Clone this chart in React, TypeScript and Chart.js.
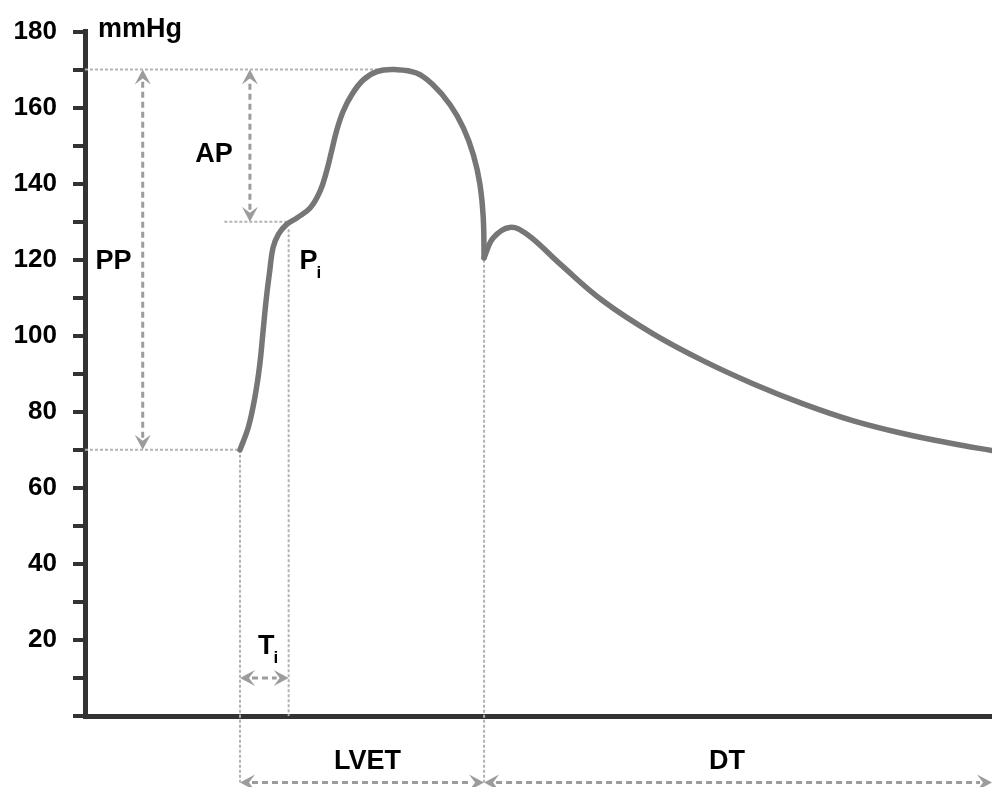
import React, { useEffect, useRef } from "react";
import { Chart, registerables } from "chart.js";

Chart.register(...registerables);

// ---- data (time in ms, pressure in mmHg) ----
const SYSTOLIC_T = [188, 198, 206, 212, 216, 220, 224, 228, 234.5, 244.6, 257, 273, 285, 293, 299, 305, 313, 323.5, 337.5, 354, 376, 402, 422, 443, 459, 471, 479, 483, 484];
const SYSTOLIC_P = [70, 75.9, 83.8, 92.5, 101.3, 110, 117, 123.1, 126.7, 129.3, 131, 133.6, 138, 143.3, 148.5, 153.8, 159, 163.4, 167.3, 169.5, 170, 169.1, 166, 160.7, 154.6, 147.6, 139.8, 131, 120.5];
const DIASTOLIC_T = [484, 495, 515, 536, 576, 628, 689, 750, 810, 871, 931, 992, 1053, 1100];
const DIASTOLIC_P = [120.5, 125.7, 128.5, 126.7, 118.9, 109.2, 100.5, 93.4, 87.4, 82.1, 77.7, 74.3, 71.6, 69.8];

const Y_MIN = 0;
const Y_MAX = 180;
const Y_STEP = 10;
const Y_LABEL_STEP = 20;
const X_MIN = 0;
const X_MAX = 1100;

// key values
const SYSTOLIC_PEAK = 170;
const DIASTOLIC_MIN = 70;
const INFLECTION_P = 130;
const EJECTION_START = 188;
const INFLECTION_T = 247;
const NOTCH_T = 484;
const NOTCH_P = 120;
const CYCLE_END = 1100;
const PEAK_T = 376;
const BELOW_AXIS = -17.5;
const TI_LEVEL = 10;
const PP_T = 70;
const AP_T = 200;

const DOTTED: [number, number, number, number][] = [
  [X_MIN, SYSTOLIC_PEAK, PEAK_T, SYSTOLIC_PEAK],
  [X_MIN, DIASTOLIC_MIN, EJECTION_START, DIASTOLIC_MIN],
  [169, INFLECTION_P, INFLECTION_T, INFLECTION_P],
  [EJECTION_START, DIASTOLIC_MIN, EJECTION_START, BELOW_AXIS],
  [INFLECTION_T, 128, INFLECTION_T, 0],
  [NOTCH_T, NOTCH_P, NOTCH_T, BELOW_AXIS],
];

const ARROWS: [number, number, number, number][] = [
  [PP_T, DIASTOLIC_MIN, PP_T, SYSTOLIC_PEAK],
  [AP_T, INFLECTION_P, AP_T, SYSTOLIC_PEAK],
  [EJECTION_START, TI_LEVEL, INFLECTION_T, TI_LEVEL],
  [EJECTION_START, BELOW_AXIS, NOTCH_T, BELOW_AXIS],
  [NOTCH_T, BELOW_AXIS, CYCLE_END, BELOW_AXIS],
];

// label text, center (t, p), subscript
const LABELS: [string, number, number, string][] = [
  ["PP", 34.6, 120.2, ""],
  ["AP", 156.5, 148.4, ""],
  ["P", 269.8, 120.2, "i"],
  ["T", 219.5, 18.9, "i"],
  ["LVET", 342.7, -11.2, ""],
  ["DT", 778.7, -11.2, ""],
];

const FONT_FAMILY = '"Liberation Sans", Arial, Helvetica, sans-serif';

function arrowHead(ctx: CanvasRenderingContext2D, x: number, y: number, dx: number, dy: number) {
  const L = 15, W = 8, N = 6;
  const nx = -dy, ny = dx;
  ctx.beginPath();
  ctx.moveTo(x, y);
  ctx.lineTo(x - dx * L + nx * W, y - dy * L + ny * W);
  ctx.lineTo(x - dx * (L - N), y - dy * (L - N));
  ctx.lineTo(x - dx * L - nx * W, y - dy * L - ny * W);
  ctx.closePath();
  ctx.fill();
}

const annotationPlugin = {
  id: "annotations",
  beforeDatasetsDraw(chart: any) {
    const { ctx, scales } = chart;
    const X = (t: number) => scales.x.getPixelForValue(t);
    const Y = (v: number) => scales.y.getPixelForValue(v);
    ctx.save();
    ctx.strokeStyle = "#b3b3b3";
    ctx.lineWidth = 2;
    ctx.setLineDash([3, 2]);
    for (const [t1, v1, t2, v2] of DOTTED) {
      ctx.beginPath();
      ctx.moveTo(X(t1), Y(v1));
      ctx.lineTo(X(t2), Y(v2));
      ctx.stroke();
    }
    ctx.strokeStyle = "#9c9c9c";
    ctx.fillStyle = "#9c9c9c";
    ctx.lineWidth = 3;
    for (const [t1, v1, t2, v2] of ARROWS) {
      const x1 = X(t1), y1 = Y(v1), x2 = X(t2), y2 = Y(v2);
      const len = Math.hypot(x2 - x1, y2 - y1);
      const dx = (x2 - x1) / len, dy = (y2 - y1) / len;
      ctx.setLineDash([6, 4]);
      ctx.beginPath();
      ctx.moveTo(x1 + dx * 12, y1 + dy * 12);
      ctx.lineTo(x2 - dx * 12, y2 - dy * 12);
      ctx.stroke();
      ctx.setLineDash([]);
      arrowHead(ctx, x2, y2, dx, dy);
      arrowHead(ctx, x1, y1, -dx, -dy);
    }
    ctx.restore();
  },
  afterDraw(chart: any) {
    const { ctx, scales, chartArea } = chart;
    const X = (t: number) => scales.x.getPixelForValue(t);
    const Y = (v: number) => scales.y.getPixelForValue(v);
    ctx.save();
    ctx.fillStyle = "#000";
    ctx.textBaseline = "alphabetic";
    // unit title
    ctx.font = `bold 27px ${FONT_FAMILY}`;
    ctx.textAlign = "left";
    ctx.fillText("mmHg", chartArea.left + 13, chartArea.top + 5);
    for (const [text, t, v, sub] of LABELS) {
      ctx.font = `bold 27px ${FONT_FAMILY}`;
      const w = ctx.measureText(text).width;
      const cx = X(t), cy = Y(v);
      const left = sub ? cx - 8 : cx - w / 2;
      const base = cy + 10;
      ctx.textAlign = "left";
      ctx.fillText(text, left, base);
      if (sub) {
        ctx.font = `bold 17px ${FONT_FAMILY}`;
        ctx.fillText(sub, left + w - 1, base + 9);
      }
    }
    ctx.restore();
  },
};

export default function App() {
  const ref = useRef<HTMLCanvasElement | null>(null);
  useEffect(() => {
    if (!ref.current) return;
    const lineStyle = {
      borderColor: "#767676",
      borderWidth: 5.5,
      pointRadius: 0,
      fill: false,
      tension: 0.4,
      borderCapStyle: "round" as const,
      borderJoinStyle: "round" as const,
    };
    const chart = new Chart(ref.current, {
      type: "line",
      data: {
        datasets: [
          { ...lineStyle, label: "systolic", data: SYSTOLIC_T.map((t, i) => ({ x: t, y: SYSTOLIC_P[i] })) },
          { ...lineStyle, label: "diastolic", data: DIASTOLIC_T.map((t, i) => ({ x: t, y: DIASTOLIC_P[i] })) },
        ],
      },
      options: {
        responsive: false,
        animation: false,
        devicePixelRatio: 1,
        layout: { padding: { top: 30, left: 0, right: 0, bottom: 0 } },
        plugins: { legend: { display: false }, tooltip: { enabled: false } },
        scales: {
          x: {
            type: "linear",
            min: X_MIN,
            max: X_MAX,
            grid: { display: false },
            ticks: { display: false },
            border: { display: true, width: 5, color: "#333" },
            afterFit: (s: any) => { s.height = 71; },
          },
          y: {
            type: "linear",
            min: Y_MIN,
            max: Y_MAX,
            grid: { drawOnChartArea: false, drawTicks: true, tickLength: 12, color: "#333", lineWidth: 4 },
            border: { display: true, width: 5, color: "#333" },
            ticks: {
              stepSize: Y_STEP,
              autoSkip: false,
              padding: 16,
              color: "#000",
              font: { family: FONT_FAMILY, size: 26, weight: "bold" },
              callback: (v: any) => (Number(v) > 0 && Number(v) % Y_LABEL_STEP === 0 ? String(v) : ""),
            },
            afterFit: (s: any) => { s.width = 85; },
          },
        },
      },
      plugins: [annotationPlugin],
    } as any);
    return () => chart.destroy();
  }, []);
  return (
    <div style={{ position: "fixed", left: 0, top: 0, width: 992, height: 787, background: "#fff" }}>
      <canvas ref={ref} width={992} height={787} />
    </div>
  );
}
